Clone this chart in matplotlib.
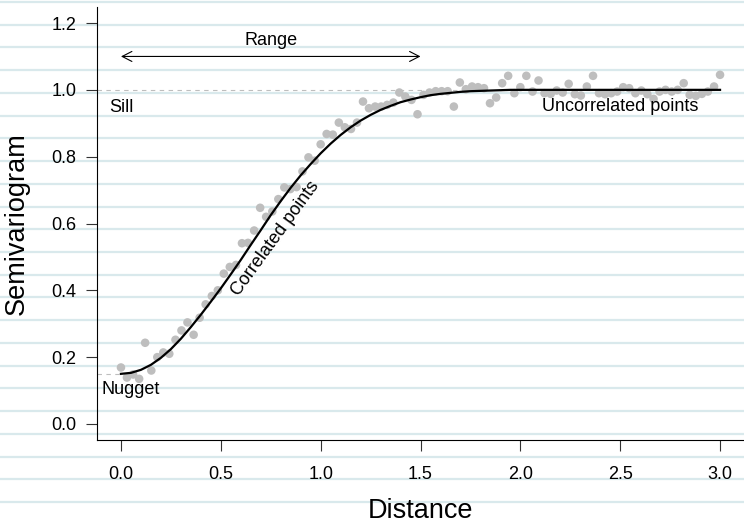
import matplotlib
matplotlib.use("Agg")
import matplotlib.pyplot as plt
from matplotlib.lines import Line2D
import numpy as np

plt.rcParams['font.family'] = ['Liberation Sans', 'DejaVu Sans']

# empirical semivariogram: 100 lag distances between 0 and 3
distance = [
    0.000, 0.030, 0.061, 0.091, 0.121, 0.152, 0.182, 0.212, 0.242, 0.273,
    0.303, 0.333, 0.364, 0.394, 0.424, 0.455, 0.485, 0.515, 0.545, 0.576,
    0.606, 0.636, 0.667, 0.697, 0.727, 0.758, 0.788, 0.818, 0.848, 0.879,
    0.909, 0.939, 0.970, 1.000, 1.030, 1.061, 1.091, 1.121, 1.152, 1.182,
    1.212, 1.242, 1.273, 1.303, 1.333, 1.364, 1.394, 1.424, 1.455, 1.485,
    1.515, 1.545, 1.576, 1.606, 1.636, 1.667, 1.697, 1.727, 1.758, 1.788,
    1.818, 1.848, 1.879, 1.909, 1.939, 1.970, 2.000, 2.030, 2.061, 2.091,
    2.121, 2.152, 2.182, 2.212, 2.242, 2.273, 2.303, 2.333, 2.364, 2.394,
    2.424, 2.455, 2.485, 2.515, 2.545, 2.576, 2.606, 2.636, 2.667, 2.697,
    2.727, 2.758, 2.788, 2.818, 2.848, 2.879, 2.909, 2.939, 2.970, 3.000,
]
semivar = [
    0.169, 0.139, 0.148, 0.135, 0.243, 0.160, 0.200, 0.214, 0.210, 0.252,
    0.280, 0.304, 0.267, 0.318, 0.358, 0.383, 0.400, 0.450, 0.470, 0.476,
    0.541, 0.542, 0.579, 0.647, 0.620, 0.636, 0.673, 0.708, 0.703, 0.709,
    0.756, 0.798, 0.788, 0.837, 0.868, 0.866, 0.902, 0.888, 0.883, 0.902,
    0.965, 0.945, 0.950, 0.950, 0.955, 0.962, 0.992, 0.980, 0.970, 0.927,
    0.985, 0.992, 0.996, 0.996, 0.996, 0.950, 1.022, 1.002, 1.010, 1.008,
    1.005, 0.960, 0.977, 1.020, 1.042, 0.990, 1.008, 1.042, 0.995, 1.028,
    0.990, 0.988, 0.998, 0.992, 1.018, 0.987, 0.983, 1.010, 1.042, 0.990,
    0.987, 0.990, 0.995, 1.008, 1.005, 0.990, 0.998, 0.987, 0.973, 0.995,
    1.000, 0.995, 1.000, 1.020, 0.985, 0.982, 0.988, 0.995, 1.010, 1.045,
]

# fitted model curve
model_h = [0.00, 0.05, 0.10, 0.15, 0.20, 0.25, 0.30, 0.35, 0.40, 0.45,
           0.50, 0.55, 0.60, 0.65, 0.70, 0.75, 0.80, 0.85, 0.90, 0.95,
           1.00, 1.05, 1.10, 1.15, 1.20, 1.25, 1.30, 1.35, 1.40, 1.45,
           1.50, 1.55, 1.60, 1.65, 1.70, 1.75, 1.80, 1.85, 1.90, 1.95,
           2.00, 2.20, 2.40, 2.60, 2.80, 3.00]
model_g = [0.150, 0.153, 0.162, 0.177, 0.198, 0.224, 0.255, 0.290, 0.327, 0.366,
           0.406, 0.448, 0.491, 0.536, 0.580, 0.625, 0.667, 0.707, 0.744, 0.778,
           0.810, 0.839, 0.865, 0.888, 0.908, 0.925, 0.940, 0.952, 0.963, 0.971,
           0.978, 0.984, 0.988, 0.991, 0.994, 0.996, 0.997, 0.998, 0.999, 1.000,
           1.000, 1.000, 1.000, 1.000, 1.000, 1.000]

nugget = 0.15
sill = 1.0
range_start, range_end = 0.0, 1.5

x_ticks = [0.0, 0.5, 1.0, 1.5, 2.0, 2.5, 3.0]
y_ticks = [0.0, 0.2, 0.4, 0.6, 0.8, 1.0, 1.2]

W, H = 744, 524
fig = plt.figure(figsize=(W / 100, H / 100), dpi=100)
fig.patch.set_facecolor('white')

# ruled paper background
for yp in np.arange(2, H, 22.73):
    fig.add_artist(Line2D([0, 1], [1 - yp / H] * 2, transform=fig.transFigure,
                          color='#d9e9ec', lw=1.6, zorder=-5))

ax = fig.add_axes([97 / W, (H - 440) / H, (W - 97) / W, 433 / H])
ax.set_facecolor('none')
ax.set_xlim(-0.12, 3.12)
ax.set_ylim(-0.048, 1.248)

grey = '#bebebe'
ax.plot([-0.12, 3.0], [sill, sill], ls=(0, (4, 4)), color=grey, lw=0.8, zorder=1)
ax.plot([-0.12, 0.0], [nugget, nugget], ls=(0, (4, 4)), color=grey, lw=0.8, zorder=1)

ax.scatter(distance, semivar, s=38, color=grey, edgecolors='none', zorder=2)
ax.plot(model_h, model_g, color='black', lw=1.6, zorder=3)

ax.annotate('', xy=(range_end, 1.1), xytext=(range_start, 1.1),
            arrowprops=dict(arrowstyle='<->,head_length=7,head_width=3.6',
                            mutation_scale=1, color='black', lw=0.8,
                            shrinkA=0, shrinkB=0))
ax.text(0.75, 1.148, 'Range', ha='center', va='center', fontsize=13)
ax.text(0.0, 0.948, 'Sill', ha='center', va='center', fontsize=13)
ax.text(0.05, 0.103, 'Nugget', ha='center', va='center', fontsize=13)
ax.text(2.5, 0.95, 'Uncorrelated points', ha='center', va='center', fontsize=13)
ax.text(0.775, 0.556, 'Correlated points', ha='center', va='center',
        fontsize=13, rotation=54, rotation_mode='anchor')

for side in ['top', 'right']:
    ax.spines[side].set_visible(False)
for side in ['left', 'bottom']:
    ax.spines[side].set_linewidth(0.8)

ax.set_xticks(x_ticks)
ax.set_xticklabels([f'{v:.1f}' for v in x_ticks])
ax.set_yticks(y_ticks)
ax.set_yticklabels([f'{v:.1f}' for v in y_ticks])
ax.tick_params(axis='both', direction='out', length=8, width=0.8,
               color='#333333', labelsize=13)
ax.tick_params(axis='x', pad=11)
ax.tick_params(axis='y', pad=7)

fig.text(420.5 / W, 1 - 511 / H, 'Distance', ha='center', va='center', fontsize=19.5)
fig.text(17 / W, 1 - 223.5 / H, 'Semivariogram', ha='center', va='center',
         fontsize=19.5, rotation=90)

fig.savefig('out.png', dpi=100)
